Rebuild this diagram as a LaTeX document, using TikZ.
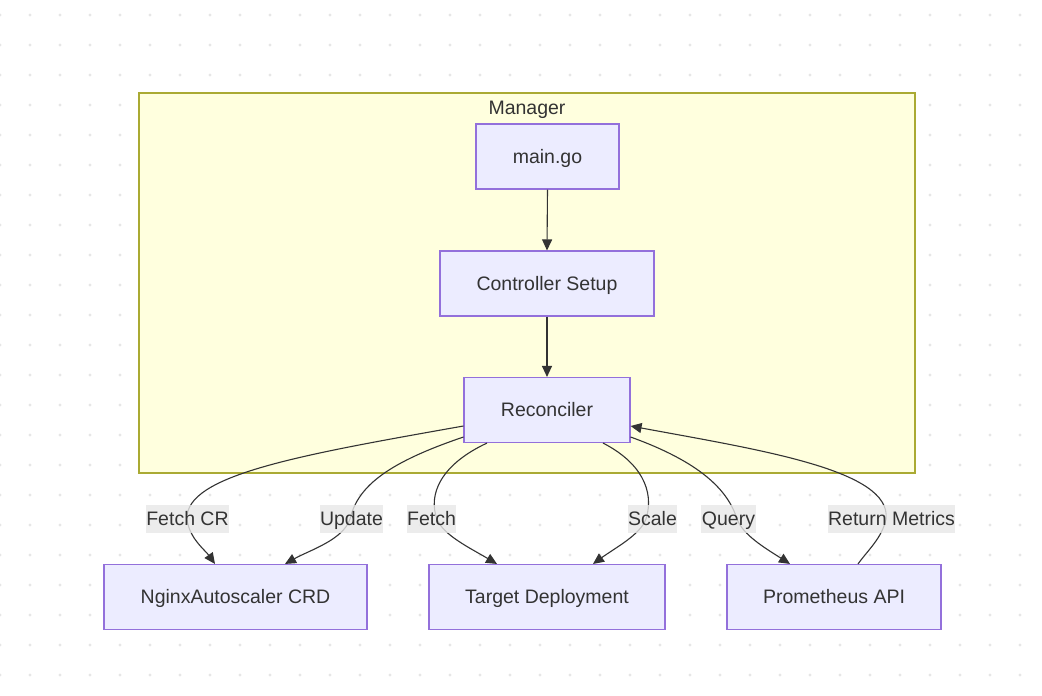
\documentclass[tikz,border=0pt]{standalone}
\usepackage{fontspec}
\setmainfont{Liberation Sans}
\usetikzlibrary{arrows.meta}
\definecolor{txt}{HTML}{333333}
\definecolor{nodefill}{HTML}{ECECFF}
\definecolor{nodeline}{HTML}{9370DB}
\definecolor{clusterfill}{HTML}{FFFFDE}
\definecolor{clusterline}{HTML}{AAAA33}
\definecolor{labelfill}{HTML}{E8E8E8}
\definecolor{dotc}{HTML}{E6E6E6}
\begin{document}
\begin{tikzpicture}[x=1pt,y=-1pt,
  font=\fontsize{19.5pt}{23pt}\selectfont,
  box/.style={draw=nodeline,fill=nodefill,line width=1.1pt,text=txt,minimum height=65pt,inner sep=0pt,text height=15.5pt,text depth=2.5pt},
  cluster/.style={draw=clusterline,fill=clusterfill,line width=1.1pt},
  edge/.style={draw=txt,line width=1.1pt,-{Triangle[length=11pt,width=10pt]}},
  elabel/.style={fill=labelfill,fill opacity=0.8,text opacity=1,text=txt,inner xsep=0.5pt,inner ysep=0pt,minimum height=28pt,text height=15.5pt,text depth=2.5pt}]
\useasboundingbox (0,0) rectangle (1042,696);
\fill[white] (0,0) rectangle (1042,696);
\foreach \x in {0,30,...,1050}{\foreach \y in {15,45,...,690}{\fill[dotc] (\x,\y) circle (1.6pt);}}
% cluster
\node[cluster,minimum width=776pt,minimum height=380pt,inner sep=0pt] (mgr) at (527,283) {};
\node[text=txt,inner sep=0pt,text height=15.5pt,text depth=2.5pt] (mgrlabel) at (527,108) {Manager};
% nodes
\node[box,minimum width=143pt] (main) at (547.5,156.5) {main.go};
\node[box,minimum width=214pt] (ctrl) at (547,283.5) {Controller Setup};
\node[box,minimum width=166pt] (rec) at (547,410) {Reconciler};
\node[box,minimum width=263pt] (crd) at (235.5,597) {NginxAutoscaler CRD};
\node[box,minimum width=236pt] (tgt) at (547,597) {Target Deployment};
\node[box,minimum width=214pt] (prom) at (834,597) {Prometheus API};
% straight edges
\draw[edge] (main.south) -- (ctrl.north);
\draw[edge] (ctrl.south) -- (rec.north);
% label anchors
\coordinate (p1) at (187,519);
\coordinate (p2) at (350,519);
\coordinate (p3) at (437,519);
\coordinate (p4) at (646,519);
\coordinate (p5) at (737,519);
\coordinate (p6) at (886,519);
% curved edges
\draw[edge] ([yshift=-16pt]rec.west) .. controls (300,455) and (185,475) .. (p1) .. controls (189,538) and (205,550) .. ([xshift=-20.5pt]crd.north);
\draw[edge] ([yshift=-27pt]rec.west) .. controls (390,462) and (358,485) .. (p2) .. controls (343,540) and (310,550) .. ([xshift=49.5pt]crd.north);
\draw[edge] ([xshift=-60pt]rec.south) .. controls (440,465) and (428,495) .. (p3) .. controls (443,535) and (470,548) .. ([xshift=-50pt]tgt.north);
\draw[edge] ([xshift=56pt]rec.south) .. controls (640,462) and (655,490) .. (p4) .. controls (640,535) and (615,548) .. ([xshift=46pt]tgt.north);
\draw[edge] ([yshift=-27pt]rec.east) .. controls (700,462) and (728,490) .. (p5) .. controls (743,535) and (765,548) .. ([xshift=-44pt]prom.north);
\draw[edge] ([xshift=24pt]prom.north) .. controls (868,550) and (882,538) .. (p6) .. controls (892,470) and (760,450) .. ([yshift=-16pt]rec.east);
% edge labels
\node[elabel] (l1) at (187.5,519) {Fetch CR};
\node[elabel] (l2) at (351.5,519) {Update};
\node[elabel] (l3) at (431.5,519) {Fetch};
\node[elabel] (l4) at (652.5,519) {Scale};
\node[elabel] (l5) at (728.5,519) {Query};
\node[elabel] (l6) at (891.5,519) {Return Metrics};
\end{tikzpicture}
\end{document}
